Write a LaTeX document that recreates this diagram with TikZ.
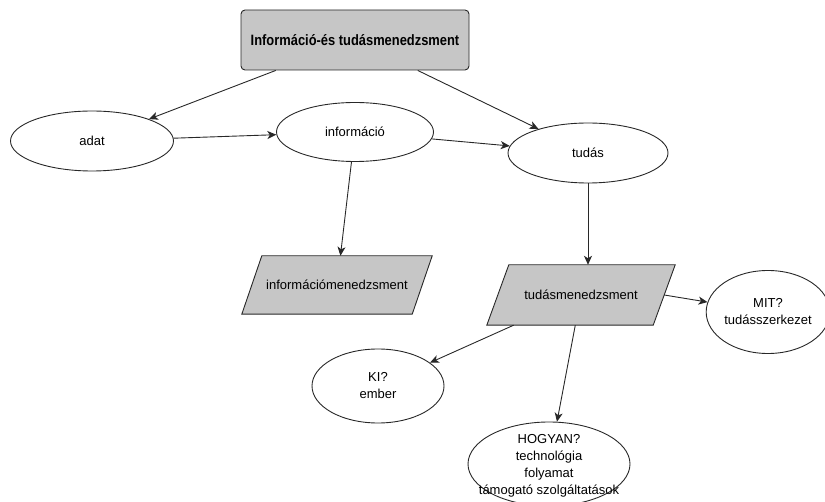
\documentclass[tikz,border=0pt]{standalone}
\usepackage{fontspec}
\setmainfont{Liberation Sans}
\newfontfamily\titlefont[FakeStretch=0.86]{Liberation Sans}
\usetikzlibrary{shapes.geometric,arrows.meta}

\definecolor{boxgray}{RGB}{198,198,198}
\definecolor{linegray}{RGB}{40,40,40}

\tikzset{
  textfont/.style={font=\fontsize{13}{17}\selectfont},
  base/.style={draw=linegray, line width=0.9pt, align=center,
    textfont, inner sep=0pt},
  headbox/.style={base, fill=boxgray, rounded corners=4pt,
    minimum width=228pt, minimum height=60pt,
    font=\titlefont\bfseries\fontsize{15}{17}\selectfont},
  oval/.style={base, ellipse},
  % rectangular frame of a slanted box; the outline is drawn separately
  paraframe/.style={align=center, textfont, inner sep=0pt},
  paraline/.style={draw=linegray, line width=0.9pt, fill=boxgray},
  link/.style={draw=linegray, line width=0.9pt,
    -{Stealth[length=9pt,width=8pt,inset=2.5pt]}}
}

\begin{document}
\begin{tikzpicture}[x=1pt,y=-1pt]
  \useasboundingbox (0,0) rectangle (825,502);

  % top heading
  \node[headbox] (head) at (355,40) {Információ-és tudásmenedzsment};

  % concept chain
  \node[oval, minimum width=163pt, minimum height=60pt] (adat) at (92,141) {adat};
  \node[oval, minimum width=157pt, minimum height=59pt] (info) at (355,132) {információ};
  \node[oval, minimum width=160pt, minimum height=60pt] (tudas) at (588,153) {tudás};

  % management fields (parallelograms)
  \node[paraframe, minimum width=190pt, minimum height=58pt] (infomgmt) at (337,285) {};
  \draw[paraline] ([xshift=20pt]infomgmt.north west) -- (infomgmt.north east)
    -- ([xshift=-20pt]infomgmt.south east) -- (infomgmt.south west) -- cycle;
  \node[paraframe] (infomgmt-text) at (infomgmt.center) {információmenedzsment};

  \node[paraframe, minimum width=188pt, minimum height=60pt] (tudmgmt) at (581,295) {};
  \draw[paraline] ([xshift=22pt]tudmgmt.north west) -- (tudmgmt.north east)
    -- ([xshift=-22pt]tudmgmt.south east) -- (tudmgmt.south west) -- cycle;
  \node[paraframe] (tudmgmt-text) at (tudmgmt.center) {tudásmenedzsment};

  % questions of knowledge management
  \node[oval, minimum width=118pt, minimum height=83pt] (mit) at (768,312) {MIT?\\tudásszerkezet};
  \node[oval, minimum width=132pt, minimum height=74pt] (ki) at (378,386) {KI?\\ember};
  \node[oval, minimum width=162pt, minimum height=84pt] (hogyan) at (549,464) {};
  \node[paraframe] (hogyan-text) at ([yshift=-2pt]hogyan.center)
    {HOGYAN?\\technológia\\folyamat\\támogató szolgáltatások};

  % connectors
  \draw[link] (head) -- (adat);
  \draw[link] (head) -- (tudas);
  \draw[link] (adat) -- (info);
  \draw[link] (info) -- (tudas);
  \draw[link] (info) -- (infomgmt);
  \draw[link] (tudas.south) -- (tudas.south |- tudmgmt.north);
  \draw[link] ([xshift=-11pt]tudmgmt.east) -- (mit);
  \draw[link] (tudmgmt) -- (ki);
  \draw[link] (tudmgmt) -- (hogyan);
\end{tikzpicture}
\end{document}
